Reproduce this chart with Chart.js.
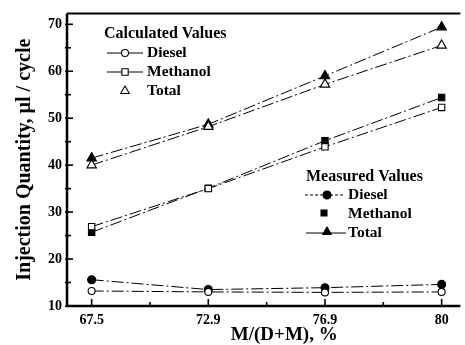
<!DOCTYPE html>
<html>
<head>
<meta charset="utf-8">
<script src="https://cdn.jsdelivr.net/npm/chart.js@4/dist/chart.umd.min.js"></script>
<style>
html,body{margin:0;padding:0;background:#fff;overflow:hidden;}
#wrap{width:465px;height:345px;}
</style>
</head>
<body>
<div id="wrap"><canvas id="c" width="465" height="345"></canvas></div>
<script>
// ---- data ----
const categories = ['67.5', '72.9', '76.9', '80'];
const calcDiesel   = [13.2, 13.0, 12.9, 13.0];
const calcMethanol = [26.9, 35.0, 43.9, 52.3];
const calcTotal    = [40.0, 48.2, 57.2, 65.5];
const measDiesel   = [15.6, 13.5, 13.9, 14.6];
const measMethanol = [25.7, 35.1, 45.2, 54.4];
const measTotal    = [41.5, 48.7, 59.0, 69.4];
const yTickLabels  = [10, 20, 30, 40, 50, 60, 70];

const SERIF = "'Liberation Serif', 'DejaVu Serif', serif";
const toXY = arr => arr.map((v, i) => ({x: i, y: v}));
const DASH = [12, 3, 2, 3];

function ds(label, data, style, filled, radius) {
  return {
    label, data: toXY(data),
    borderColor: '#000', borderWidth: 1, borderDash: DASH,
    pointStyle: style, pointRadius: radius, pointHoverRadius: radius,
    pointBackgroundColor: filled ? '#000' : '#fff',
    pointBorderColor: '#000', pointBorderWidth: 1.1,
    fill: false, tension: 0
  };
}

const datasets = [
  ds('Calculated Diesel', calcDiesel, 'circle', false, 3.5),
  ds('Calculated Methanol', calcMethanol, 'rect', false, 4.5),
  ds('Calculated Total', calcTotal, 'triangle', false, 5.5),
  ds('Measured Diesel', measDiesel, 'circle', true, 4),
  ds('Measured Methanol', measMethanol, 'rect', true, 4.5),
  ds('Measured Total', measTotal, 'triangle', true, 5.5)
];

function marker(ctx, style, x, y, r, filled) {
  ctx.save();
  ctx.setLineDash([]);
  ctx.lineWidth = 1.1;
  ctx.strokeStyle = '#000';
  ctx.fillStyle = filled ? '#000' : '#fff';
  ctx.beginPath();
  if (style === 'circle') {
    ctx.arc(x, y, r, 0, Math.PI * 2);
  } else if (style === 'rect') {
    const s = r * Math.SQRT1_2;
    ctx.rect(x - s, y - s, 2 * s, 2 * s);
  } else {
    ctx.moveTo(x, y - r);
    ctx.lineTo(x + r * 0.866, y + r * 0.5);
    ctx.lineTo(x - r * 0.866, y + r * 0.5);
    ctx.closePath();
  }
  ctx.fill();
  ctx.stroke();
  ctx.restore();
}

const framePlugin = {
  id: 'frame',
  afterDraw(chart) {
    const ctx = chart.ctx, a = chart.chartArea;
    const xs = chart.scales.x, ys = chart.scales.y;
    ctx.save();
    ctx.strokeStyle = '#000';
    ctx.setLineDash([]);
    // frame lines
    ctx.lineWidth = 2.5;
    ctx.beginPath();
    ctx.moveTo(a.left, a.top); ctx.lineTo(a.left, a.bottom); ctx.lineTo(a.right + 2, a.bottom);
    ctx.stroke();
    ctx.lineWidth = 2;
    ctx.beginPath();
    ctx.moveTo(a.left, a.top); ctx.lineTo(a.right + 2, a.top);
    ctx.stroke();
    // inward ticks
    ctx.lineWidth = 1.6;
    ys.ticks.forEach(t => {
      const y = ys.getPixelForValue(t.value);
      const major = Math.abs(t.value % 10) < 1e-6;
      ctx.beginPath();
      ctx.moveTo(a.left - 2, y); ctx.lineTo(a.left + (major ? 6 : 4), y);
      ctx.stroke();
    });
    xs.ticks.forEach(t => {
      const x = xs.getPixelForValue(t.value);
      const major = Math.abs(t.value - Math.round(t.value)) < 1e-6;
      ctx.beginPath();
      ctx.moveTo(x, a.bottom); ctx.lineTo(x, a.bottom - (major ? 7 : 4));
      ctx.stroke();
    });
    // x axis title
    ctx.fillStyle = '#000';
    ctx.font = 'bold 19px ' + SERIF;
    ctx.textAlign = 'center';
    ctx.textBaseline = 'middle';
    ctx.fillText('M/(D+M), %', a.left + (a.right - a.left) * 0.555, 335);
    ctx.restore();
  },
  afterDatasetsDraw(chart) {
    const ctx = chart.ctx;
    ctx.save();
    ctx.fillStyle = '#000';
    ctx.strokeStyle = '#000';
    ctx.textBaseline = 'middle';
    ctx.textAlign = 'left';
    const line = (x1, x2, y, dash) => {
      ctx.save(); ctx.lineWidth = 1; ctx.setLineDash(dash);
      ctx.beginPath(); ctx.moveTo(x1, y); ctx.lineTo(x2, y); ctx.stroke(); ctx.restore();
    };
    // Calculated legend
    ctx.font = 'bold 16px ' + SERIF;
    ctx.fillText('Calculated Values', 104, 34);
    ctx.font = 'bold 15.5px ' + SERIF;
    line(107, 143, 53, []);
    marker(ctx, 'circle', 125, 53, 3.5, false);
    ctx.fillText('Diesel', 147, 53);
    line(107, 143, 72, []);
    marker(ctx, 'rect', 125, 72, 4.5, false);
    ctx.fillText('Methanol', 147, 72);
    marker(ctx, 'triangle', 125, 91, 5, false);
    ctx.fillText('Total', 147, 91);
    // Measured legend
    ctx.font = 'bold 16px ' + SERIF;
    ctx.fillText('Measured Values', 306, 177);
    ctx.font = 'bold 15.5px ' + SERIF;
    line(305, 345, 195, [3, 2]);
    marker(ctx, 'circle', 327, 195, 4, true);
    ctx.fillText('Diesel', 348, 195);
    marker(ctx, 'rect', 324, 213, 4.2, true);
    ctx.fillText('Methanol', 348, 214);
    line(306, 346, 233, []);
    marker(ctx, 'triangle', 327, 232, 5, true);
    ctx.fillText('Total', 348, 233);
    ctx.restore();
  }
};

new Chart(document.getElementById('c'), {
  type: 'line',
  data: { datasets },
  options: {
    responsive: false,
    animation: false,
    events: [],
    layout: { padding: { top: 11, right: 1, left: 0, bottom: 0 } },
    plugins: { legend: { display: false }, tooltip: { enabled: false } },
    scales: {
      x: {
        type: 'linear',
        min: -0.2113, max: 3.1437,
        afterFit: s => { s.height = 39; },
        grid: { display: false, drawTicks: false },
        border: { display: false },
        ticks: {
          stepSize: 0.5, includeBounds: false, autoSkip: false, maxRotation: 0,
          padding: 6, color: '#000',
          font: { family: SERIF, size: 14, weight: 'bold' },
          callback: v => (Math.abs(v - Math.round(v)) < 1e-6 && categories[Math.round(v)] !== undefined) ? categories[Math.round(v)] : ''
        }
      },
      y: {
        type: 'linear',
        min: 10, max: 72.32,
        afterFit: s => { s.width = 67; },
        grid: { display: false, drawTicks: false },
        border: { display: false },
        title: {
          display: true, text: 'Injection Quantity, µl / cycle', color: '#000',
          font: { family: SERIF, size: 20, weight: 'bold' },
          padding: { top: 13, bottom: 0 }
        },
        ticks: {
          stepSize: 5, includeBounds: false, autoSkip: false,
          padding: 5, color: '#000',
          font: { family: SERIF, size: 14, weight: 'bold' },
          callback: v => yTickLabels.includes(v) ? String(v) : ''
        }
      }
    }
  },
  plugins: [framePlugin]
});
</script>
</body>
</html>
